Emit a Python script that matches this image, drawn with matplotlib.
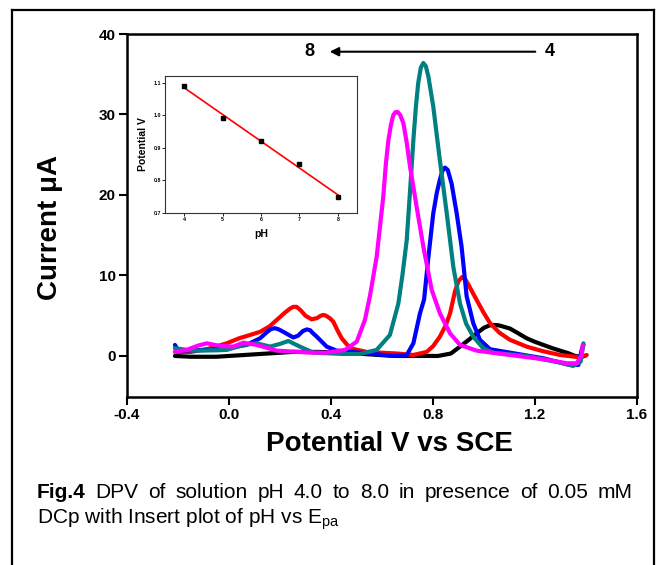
import numpy as np
import matplotlib
matplotlib.use('Agg')
import matplotlib.pyplot as plt
from matplotlib.lines import Line2D

plt.rcParams['font.family'] = ['Liberation Sans', 'DejaVu Sans']
plt.rcParams['mathtext.fontset'] = 'custom'
plt.rcParams['mathtext.rm'] = 'Liberation Sans'
plt.rcParams['mathtext.it'] = 'Liberation Sans'

# DPV curves (potential V vs SCE, current uA)
x_ph4 = [-0.212, -0.15, -0.05, 0.05, 0.15, 0.25, 0.35, 0.45, 0.55, 0.65, 0.75, 0.82, 0.87, 0.906,
         0.94, 0.971, 1.0, 1.02, 1.036, 1.055, 1.07, 1.102, 1.135, 1.167, 1.2, 1.233, 1.265, 1.298,
         1.33, 1.357, 1.38, 1.396]
y_ph4 = [0.0, -0.1, -0.1, 0.1, 0.3, 0.5, 0.5, 0.4, 0.2, 0.0, 0.0, 0.0, 0.3, 1.16,
         2.0, 2.8, 3.5, 3.78, 3.85, 3.82, 3.7, 3.4, 2.8, 2.2, 1.75, 1.37, 1.0, 0.66,
         0.35, 0.0, -0.1, 0.0]

x_ph5 = [-0.212, -0.15, -0.08, -0.009, 0.04, 0.082, 0.122, 0.16, 0.187, 0.22, 0.24, 0.252, 0.265,
         0.28, 0.3, 0.324, 0.345, 0.36, 0.37, 0.38, 0.395, 0.409, 0.425, 0.442, 0.475, 0.54, 0.6,
         0.66, 0.723, 0.775, 0.8, 0.827, 0.85, 0.867, 0.886, 0.9, 0.914, 0.927, 0.94, 0.955, 0.971,
         1.0, 1.024, 1.06, 1.102, 1.167, 1.23, 1.298, 1.376, 1.403]
y_ph5 = [0.5, 0.5, 0.9, 1.57, 2.2, 2.6, 3.0, 3.7, 4.47, 5.4, 5.9, 6.1, 6.1,
         5.7, 5.0, 4.55, 4.7, 5.0, 5.1, 5.0, 4.7, 4.26, 3.2, 2.2, 0.95, 0.5, 0.4,
         0.3, 0.12, 0.5, 1.2, 2.4, 3.8, 5.3, 8.0, 9.3, 9.8, 9.5, 8.8, 7.9, 6.96,
         5.3, 4.06, 2.9, 2.0, 1.16, 0.6, 0.12, -0.17, 0.12]

x_ph6 = [-0.212, -0.199, -0.14, -0.075, -0.009, 0.069, 0.122, 0.15, 0.165, 0.18, 0.195, 0.213, 0.235,
         0.252, 0.27, 0.29, 0.305, 0.318, 0.33, 0.344, 0.383, 0.422, 0.514, 0.6, 0.644, 0.697, 0.723,
         0.749, 0.765, 0.782, 0.801, 0.815, 0.827, 0.837, 0.847, 0.858, 0.873, 0.893, 0.912, 0.932,
         0.958, 0.984, 1.024, 1.102, 1.233, 1.337, 1.37, 1.383, 1.39]
y_ph6 = [1.37, 0.66, 0.7, 0.75, 0.95, 1.37, 2.2, 3.0, 3.35, 3.45, 3.3, 3.0, 2.6,
         2.3, 2.5, 3.1, 3.3, 3.2, 2.8, 2.4, 1.16, 0.66, 0.41, 0.15, 0.0, 0.12, 1.57,
         5.3, 7.0, 12.3, 17.7, 20.3, 21.9, 23.0, 23.4, 23.1, 21.4, 17.7, 13.6, 7.4,
         4.06, 2.0, 0.83, 0.41, -0.29, -1.12, -1.12, 0.75, 1.37]

x_ph7 = [-0.212, -0.14, -0.05, -0.009, 0.056, 0.109, 0.161, 0.2, 0.233, 0.278, 0.331, 0.448, 0.514,
         0.579, 0.631, 0.664, 0.68, 0.697, 0.71, 0.723, 0.733, 0.742, 0.752, 0.762, 0.772, 0.782,
         0.801, 0.825, 0.854, 0.88, 0.906, 0.93, 0.958, 0.997, 1.036, 1.1, 1.167, 1.298, 1.35,
         1.379, 1.39]
y_ph7 = [0.95, 0.66, 0.7, 0.75, 1.37, 1.57, 1.16, 1.5, 1.86, 1.16, 0.41, 0.25, 0.25,
         0.75, 2.6, 6.5, 10.0, 14.4, 20.5, 26.8, 31.0, 33.9, 35.8, 36.4, 36.0, 34.7,
         31.0, 24.8, 17.7, 11.0, 6.5, 4.0, 2.4, 0.95, 0.41, 0.2, 0.0, -0.83, -1.24,
         -0.7, 1.57]

x_ph8 = [-0.212, -0.166, -0.12, -0.087, -0.035, 0.017, 0.056, 0.109, 0.187, 0.318, 0.383, 0.455,
         0.501, 0.533, 0.553, 0.579, 0.605, 0.615, 0.625, 0.635, 0.644, 0.653, 0.662, 0.672, 0.684,
         0.697, 0.71, 0.736, 0.762, 0.795, 0.827, 0.867, 0.906, 0.971, 1.102, 1.233, 1.325, 1.364,
         1.383, 1.387]
y_ph8 = [0.5, 0.75, 1.3, 1.57, 1.24, 1.16, 1.65, 1.37, 0.66, 0.41, 0.41, 0.75,
         1.78, 4.47, 7.5, 12.3, 19.8, 23.8, 26.8, 28.7, 29.9, 30.3, 30.3, 29.9, 28.9,
         26.5, 23.5, 18.5, 13.6, 8.2, 5.3, 2.8, 1.37, 0.66, 0.12, -0.41, -0.91, -0.91,
         0.12, 1.37]

curve_colors = ['black', 'red', 'blue', '#008080', 'magenta']

# inset: Epa vs pH
ph = [4, 5, 6, 7, 8]
epa = [1.09, 0.99, 0.92, 0.85, 0.75]

xticks = [-0.4, 0.0, 0.4, 0.8, 1.2, 1.6]
yticks = [0, 10, 20, 30, 40]

fig = plt.figure(figsize=(6.59, 5.65), dpi=100)
W, H = 659, 565

ax = fig.add_axes([127 / W, 1 - 397 / H, 510 / W, 363 / H])
curves = [(x_ph4, y_ph4), (x_ph5, y_ph5), (x_ph6, y_ph6), (x_ph7, y_ph7), (x_ph8, y_ph8)]
for (xs, ys), c in zip(curves, curve_colors):
    ax.plot(xs, ys, color=c, lw=3, solid_joinstyle='round', solid_capstyle='round')

ax.set_xlim(-0.4, 1.6)
ax.set_ylim(-5.1, 40)
ax.set_xticks(xticks)
ax.set_xticklabels(['%.1f' % v for v in xticks])
ax.set_yticks(yticks)
for s in ax.spines.values():
    s.set_linewidth(1.8)
ax.tick_params(direction='out', length=6, width=1.5, labelsize=11, pad=2)
for lbl in ax.get_xticklabels() + ax.get_yticklabels():
    lbl.set_fontweight('bold')

ax.set_xlabel('Potential V vs SCE', fontsize=20, fontweight='bold')
ax.xaxis.set_label_coords(0.514, -0.129)
ax.xaxis.label.set_va('center')
ax.set_ylabel('Current μA', fontsize=20, fontweight='bold')
ax.yaxis.set_label_coords(-0.151, 0.468)
ax.yaxis.label.set_va('center')

# pH direction arrow
ax.annotate('', xy=(0.384, 37.8), xytext=(1.212, 37.8),
            arrowprops=dict(arrowstyle='-|>', lw=1.5, color='black', mutation_scale=13))
ax.text(0.314, 37.8, '8', fontsize=13, fontweight='bold', ha='center', va='center')
ax.text(1.259, 37.8, '4', fontsize=13, fontweight='bold', ha='center', va='center')

# inset
ins = fig.add_axes([165 / W, 1 - 213 / H, 192 / W, 137 / H])
fit = np.polyfit(ph, epa, 1)
ins.plot(ph, np.polyval(fit, ph), color='red', lw=1.2)
ins.plot(ph, epa, 's', color='black', ms=3)
ins.set_xlim(3.5, 8.5)
ins.set_ylim(0.7, 1.12)
ins.set_xticks(ph)
ins.set_yticks([0.7, 0.8, 0.9, 1.0, 1.1])
ins.set_yticklabels(['0.7', '0.8', '0.9', '1.0', '1.1'])
for s in ins.spines.values():
    s.set_linewidth(0.8)
    s.set_color('#333333')
ins.tick_params(direction='out', length=2, width=0.6, labelsize=3.8, pad=1)
for lbl in ins.get_xticklabels() + ins.get_yticklabels():
    lbl.set_fontweight('bold')
ins.set_xlabel('pH', fontsize=7.5, fontweight='bold', labelpad=5)
ins.set_ylabel('Potential V', fontsize=7.5, fontweight='bold', labelpad=4)

# outer frame
frame_kw = dict(color='black', lw=1.6, transform=fig.transFigure)
fig.add_artist(Line2D([12 / W, 12 / W], [0, 1 - 10 / H], **frame_kw))
fig.add_artist(Line2D([12 / W, 654 / W], [1 - 10 / H, 1 - 10 / H], **frame_kw))
fig.add_artist(Line2D([654 / W, 654 / W], [0, 1 - 10 / H], **frame_kw))

# caption, first line justified
fig.canvas.draw()
renderer = fig.canvas.get_renderer()
words = ['Fig.4', 'DPV', 'of', 'solution', 'pH', '4.0', 'to', '8.0', 'in', 'presence', 'of',
         '0.05', 'mM']
texts = []
for i, w in enumerate(words):
    texts.append(fig.text(0, 1 - 493 / H, w, fontsize=15, va='center',
                          fontweight='bold' if i == 0 else 'normal'))
widths = [t.get_window_extent(renderer).width for t in texts]
gap = (633 - 37 - sum(widths)) / (len(words) - 1)
pos = 37
for t, w in zip(texts, widths):
    t.set_x(pos / W)
    pos += w + gap
fig.text(37 / W, 1 - 519 / H, r'DCp with Insert plot of pH vs E$_{\mathrm{pa}}$',
         fontsize=15, va='center')

fig.savefig('out.png', dpi=100)
